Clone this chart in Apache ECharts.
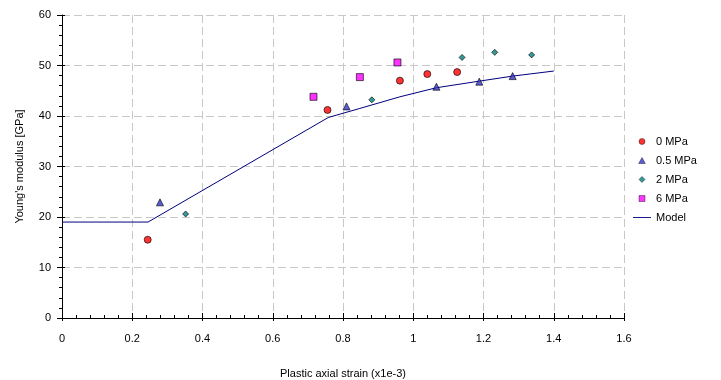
<!DOCTYPE html>
<html>
<head>
<meta charset="utf-8">
<script src="https://cdn.jsdelivr.net/npm/echarts@6/dist/echarts.min.js"></script>
<style>
  html, body { margin: 0; padding: 0; background: #fff; }
  #chart { width: 721px; height: 380px; }
</style>
</head>
<body>
<div id="chart"></div>
<script>
// measured values, x = plastic axial strain (x1e-3), y = Young's modulus [GPa]
const mpa0 = [[0.244, 15.5], [0.756, 41.2], [0.962, 47.0], [1.040, 48.3], [1.125, 48.7]];
const mpa05 = [[0.279, 22.9], [0.810, 41.9], [1.066, 45.8], [1.188, 46.8], [1.283, 47.9]];
const mpa2 = [[0.352, 20.6], [0.882, 43.2], [1.139, 51.6], [1.232, 52.6], [1.337, 52.1]];
const mpa6 = [[0.716, 43.8], [0.848, 47.7], [0.955, 50.6]];
const model = [[0, 19], [0.245, 19], [0.758, 39.7], [0.848, 41.5], [0.962, 43.8],
  [1.066, 45.6], [1.188, 46.9], [1.283, 47.9], [1.4, 48.9]];

const FONT = "Liberation Sans, Arial, sans-serif";
const gridLine = { show: true, lineStyle: { color: "#c8c8c8", width: 1, type: [8, 4] } };
const txt = { color: "#000", fontSize: 11, fontFamily: FONT };

// legend icons (path icons keep their aspect inside the legend box)
const ICON = {
  circle: "path://M0,5a5,5 0 1,0 10,0a5,5 0 1,0 -10,0z",
  triangle: "path://M5,0L10,9L0,9Z",
  diamond: "path://M5,0L10,5L5,10L0,5Z",
  square: "path://M0,0H10V10H0Z",
  line: "path://M0,0H20V1H0Z",
};
const thinEdge = { borderWidth: 0.5 };

const chart = echarts.init(document.getElementById("chart"));

function scatter(name, data, symbol, color, size) {
  return {
    name, type: "scatter", data, symbol, symbolSize: size,
    itemStyle: { color, borderColor: "#000", borderWidth: 0.8 },
    z: 5,
  };
}

chart.setOption({
  animation: false,
  backgroundColor: "#fff",
  textStyle: { fontFamily: FONT },
  grid: { left: 62, right: 97, top: 15, bottom: 62, outerBoundsMode: "none", containLabel: false },
  xAxis: [
    {
      type: "value", min: 0, max: 1.6, interval: 0.2,
      name: "Plastic axial strain (x1e-3)", nameLocation: "middle", nameGap: 50,
      nameTextStyle: txt,
      axisLine: { lineStyle: { color: "#000", width: 1 } },
      axisTick: { inside: true, length: 5, lineStyle: { color: "#000" } },
      minorTick: { show: true, splitNumber: 5, length: 3, lineStyle: { color: "#000" } },
      axisLabel: { ...txt, margin: 15 },
      splitLine: gridLine,
    },
    {
      type: "value", min: 0, max: 1.6, interval: 0.2, position: "bottom",
      axisLine: { show: false },
      axisTick: { inside: false, length: 3, lineStyle: { color: "#000" } },
      axisLabel: { show: false }, splitLine: { show: false },
    },
  ],
  yAxis: [
    {
      type: "value", min: 0, max: 60, interval: 10,
      name: "Young's modulus [GPa]", nameLocation: "middle", nameGap: 37,
      nameTextStyle: txt,
      axisLine: { show: true, lineStyle: { color: "#000", width: 1 } },
      axisTick: { show: true, inside: false, length: 5, lineStyle: { color: "#000" } },
      minorTick: { show: true, splitNumber: 5, length: 3, lineStyle: { color: "#000" } },
      axisLabel: { ...txt, margin: 11 },
      splitLine: gridLine,
    },
    {
      type: "value", min: 0, max: 60, interval: 10, position: "left",
      axisLine: { show: false },
      axisTick: { show: true, inside: true, length: 3, lineStyle: { color: "#000" } },
      axisLabel: { show: false }, splitLine: { show: false },
    },
  ],
  legend: {
    orient: "vertical", left: 628, top: 131,
    itemWidth: 18, itemHeight: 6, itemGap: 8,
    textStyle: txt,
    data: [
      { name: "0 MPa", icon: ICON.circle, itemStyle: thinEdge },
      { name: "0.5 MPa", icon: ICON.triangle, itemStyle: thinEdge },
      { name: "2 MPa", icon: ICON.diamond, itemStyle: thinEdge },
      { name: "6 MPa", icon: ICON.square, itemStyle: thinEdge },
      { name: "Model", icon: ICON.line },
    ],
  },
  series: [
    scatter("0 MPa", mpa0, "circle", "#ff0000", 7),
    scatter("0.5 MPa", mpa05, "triangle", "#3333cc", 7),
    scatter("2 MPa", mpa2, "diamond", "#008080", 6),
    scatter("6 MPa", mpa6, "rect", "#ff00ff", 7),
    {
      name: "Model", type: "line", data: model, symbol: "none", showSymbol: false,
      lineStyle: { color: "#000080", width: 1 }, itemStyle: { color: "#000080" }, z: 3,
    },
  ],
});
</script>
</body>
</html>
